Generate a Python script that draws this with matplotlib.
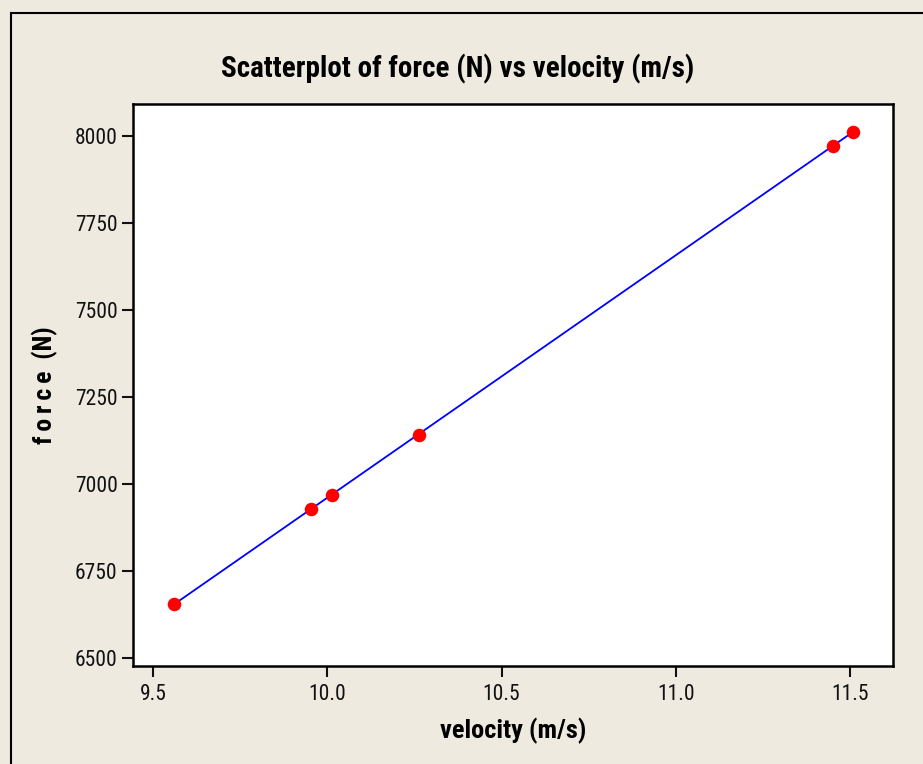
import matplotlib
matplotlib.use("Agg")
import matplotlib.pyplot as plt
from matplotlib.patches import Rectangle
from matplotlib import font_manager

velocity = [9.561, 9.953, 10.013, 10.263, 11.452, 11.508]
force = [6655, 6927, 6967, 7142, 7971, 8011]
x_ticks = [9.5, 10.0, 10.5, 11.0, 11.5]
y_ticks = [6500, 6750, 7000, 7250, 7500, 7750, 8000]

# condensed sans to stand in for Arial Narrow
names = {f.name for f in font_manager.fontManager.ttflist}
cands = ["Liberation Sans Narrow", "Roboto Condensed", "PT Sans Narrow",
         "Archivo Narrow", "Pragati Narrow", "Open Sans Condensed"]
fam = next((c for c in cands if c in names), "DejaVu Sans")
plt.rcParams["font.family"] = [fam, "DejaVu Sans"]

BG = "#eeeae0"
W, H = 923, 764
fig = plt.figure(figsize=(W / 100, H / 100), dpi=100, facecolor=BG)
fig.patches.append(Rectangle((11 / W, -0.1), 1.2, (H - 13) / H + 0.1,
                             transform=fig.transFigure, fill=False,
                             edgecolor="black", lw=1.5))

ax = fig.add_axes([133 / W, 1 - 666 / H, (893 - 133) / W, (666 - 104) / H])
ax.set_facecolor("white")
ax.plot([velocity[0], velocity[-1]], [force[0], force[-1]], color="#0000ff", lw=1.3, zorder=2)
ax.scatter(velocity, force, s=95, color="#ff0000", zorder=3, linewidths=0)

ax.set_xlim(9.442, 11.624)
ax.set_ylim(6477, 8092)
ax.set_xticks(x_ticks)
ax.set_xticklabels([f"{v:.1f}" for v in x_ticks])
ax.set_yticks(y_ticks)
for s in ax.spines.values():
    s.set_linewidth(1.8)
ax.tick_params(direction="out", length=8, width=1.5, labelsize=15.5, colors="#111111")
ax.tick_params(axis="x", pad=5)
ax.tick_params(axis="y", pad=3)

fig.text(458 / W, 1 - 69 / H, "Scatterplot of force (N) vs velocity (m/s)",
         fontsize=21, fontweight="bold", ha="center", va="center")
ax.set_xlabel("velocity (m/s)", fontsize=19, fontweight="bold", labelpad=9)
ax.set_ylabel("f\u2009o\u2009r\u2009c\u2009e  (N)", fontsize=18.5, fontweight="bold",
              labelpad=12)

fig.savefig("out.png", dpi=100, facecolor=BG)
